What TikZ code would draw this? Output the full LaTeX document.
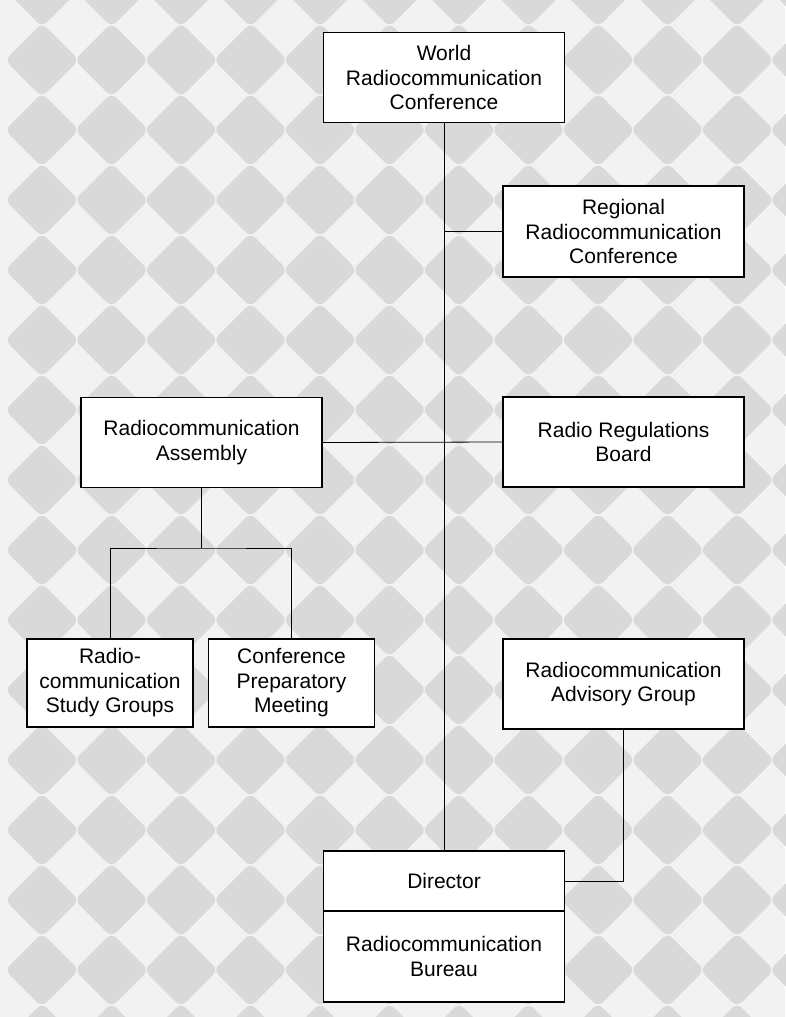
\documentclass[tikz,border=0pt]{standalone}
\usepackage{fontspec}
\setmainfont{Liberation Sans}
\usepackage{tikz}
\usetikzlibrary{positioning}

\begin{document}
\begin{tikzpicture}[x=1pt, y=-1pt,
  orgbox/.style={draw, rectangle, fill=white, line width=1.1pt, align=center,
    minimum width=241pt, minimum height=90pt, inner sep=0pt, outer sep=0pt,
    font=\fontsize{21}{24.5}\selectfont},
  smallbox/.style={orgbox, minimum width=166pt, minimum height=88pt},
  link/.style={line width=0.8pt}]
\useasboundingbox (0,0) rectangle (785,1017);

% background pattern
\fill[gray!10] (0,0) rectangle (785,1017);
\foreach \i in {0,...,11} {
  \foreach \j in {-1,...,14} {
    \fill[gray!30, rounded corners=7pt]
      ({42+69.5*\i-37},{60+70*\j}) -- ({42+69.5*\i},{60+70*\j-37})
      -- ({42+69.5*\i+37},{60+70*\j}) -- ({42+69.5*\i},{60+70*\j+37}) -- cycle;
  }
}

\node[orgbox] (wrc) at (444,77.5) {World\\Radiocommunication\\Conference};
\node[orgbox, minimum height=91pt] (rrc) at (623.5,231.5) {Regional\\Radiocommunication\\Conference};
\node[orgbox] (ra) at (201.5,442.5) {Radiocommunication\\Assembly};
\node[orgbox] (rrb) at (623.5,442) {Radio Regulations\\Board};
\node[smallbox] (rsg) at (110,683) {Radio-\\communication\\Study Groups};
\node[smallbox] (cpm) at (291.5,683) {Conference\\Preparatory\\Meeting};
\node[orgbox] (rag) at (623.5,684) {Radiocommunication\\Advisory Group};
\node[orgbox, minimum height=60pt] (dir) at (444,881) {Director};
\node[orgbox, minimum height=91pt, below=0pt of dir] (brb) {Radiocommunication\\Bureau};

\coordinate (split) at (201.5,548);

\draw[link] (wrc.south) -- (dir.north);
\draw[link] (rrc.west) -- (rrc.west -| wrc.south);
\draw[link] (ra.east) -- (rrb.west);
\draw[link] (ra.south) -- (split);
\draw[link] (rsg.north) |- (split) -| (cpm.north);
\draw[link] (rag.south) |- (dir.east);
\end{tikzpicture}
\end{document}
